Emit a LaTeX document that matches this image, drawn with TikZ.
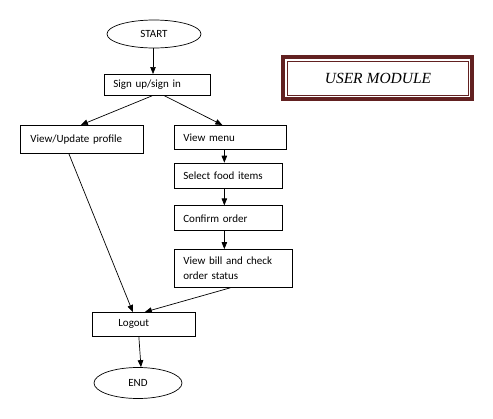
\documentclass[tikz,border=0pt]{standalone}
\usepackage{fontspec}
\setmainfont{Carlito}
\newfontfamily\titlefont{Liberation Serif}
\usepackage{tikz}
\usetikzlibrary{arrows.meta,positioning,shapes.geometric}
\definecolor{maroon}{RGB}{98,33,33}

\begin{document}
\begin{tikzpicture}[
  x=1pt, y=-1pt,
  every node/.style={font=\fontsize{11}{15.5}\selectfont},
  box/.style={draw, line width=0.7pt, anchor=north west, inner xsep=9pt, inner ysep=0pt, align=left},
  oval/.style={draw, line width=0.7pt, ellipse, inner sep=0pt},
  arr/.style={line width=0.7pt, -{Triangle[length=7pt, width=5.5pt]}}
]
\useasboundingbox (0,0) rectangle (493,418);
% start and login
\node[oval, minimum width=94pt, minimum height=28pt] (start) at (154,34) {START};
\node[box, text width=88pt, minimum height=21pt] (sign) at (104,74) {Sign up/sign in};
% two branches
\node[box, text width=103pt, minimum height=28pt, inner xsep=10pt] (prof) at (20,125) {View/Update profile};
\node[box, text width=94pt, minimum height=24pt] (menu) at (174,125) {View menu};
\node[box, text width=90pt, minimum height=25pt, below=13pt of menu.south west, anchor=north west] (food) {Select food items};
\node[box, text width=90pt, minimum height=25pt, below=17pt of food.south west, anchor=north west] (conf) {Confirm order};
\node[box, text width=100pt, minimum height=38pt, below=18pt of conf.south west, anchor=north west] (bill) {View bill and check\\order status};
% end
\node[box, text width=77pt, minimum height=24pt, inner xsep=13pt] (out) at (92,312) {\hspace{13pt}Logout};
\node[oval, minimum width=88pt, minimum height=31pt] (fin) at (138,383) {END};
% title
\draw[maroon, line width=4pt] (283,57) rectangle (472,99);
\draw[maroon, line width=0.9pt] (287.5,61.5) rectangle (468,95.5);
\node[font=\titlefont\itshape\fontsize{15.5}{18}\selectfont] (title) at (378,78) {USER MODULE};
\draw[arr] (start.south -| 153,0) -- (sign.north -| 153,0);
\draw[arr] ([xshift=-5pt]sign.south) -- ([xshift=-1pt]prof.north);
\draw[arr] ([xshift=7pt]sign.south) -- ([xshift=-8pt]menu.north);
\draw[arr] ([xshift=-6pt]menu.south) -- ([xshift=-4pt]food.north);
\draw[arr] ([xshift=-4pt]food.south) -- ([xshift=-4pt]conf.north);
\draw[arr] ([xshift=-4pt]conf.south) -- ([xshift=-9pt]bill.north);
\draw[arr] ([xshift=-13pt]prof.south) -- ([xshift=-11pt]out.north);
\draw[arr] ([xshift=-3pt]bill.south) -- ([xshift=1pt]out.north);
\draw[arr] ([xshift=-5pt]out.south) -- ([xshift=3pt]fin.north);
\end{tikzpicture}
\end{document}
